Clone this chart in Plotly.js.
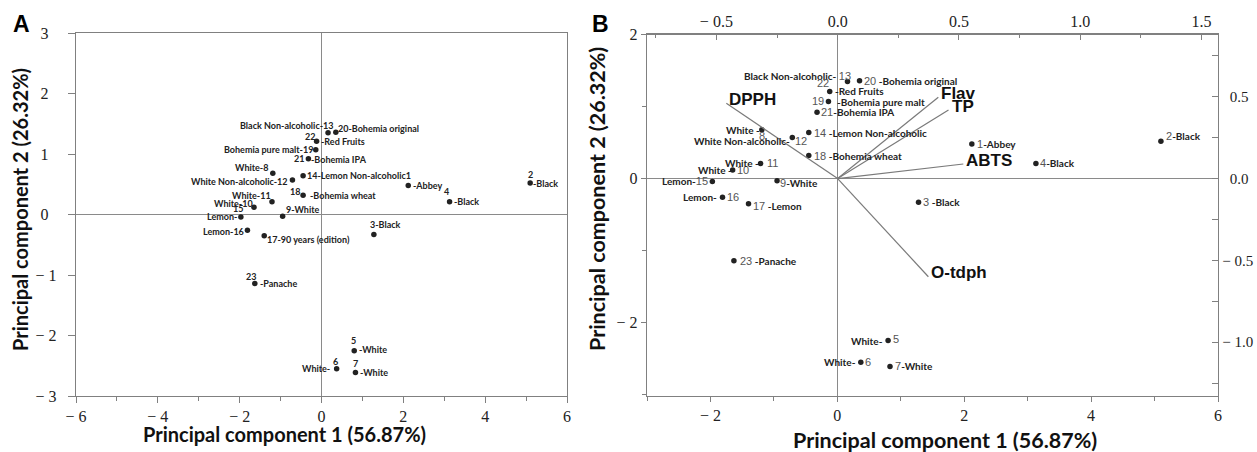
<!DOCTYPE html>
<html><head><meta charset="utf-8">
<script src="https://cdn.plot.ly/plotly-3.0.1.min.js"></script>
<style>html,body{margin:0;padding:0;background:#fff}#chart{width:1257px;height:452px}</style>
</head><body><div id="chart"></div>
<script>
// ---- data: PCA scores (samples 1..23) ----
const sampleIds = [1,2,3,4,5,6,7,8,9,10,11,12,13,14,15,16,17,18,19,20,21,22,23];
const pc1 = [2.12, 5.10, 1.28, 3.13, 0.80, 0.37, 0.83, -1.19, -0.95, -1.65, -1.21, -0.71, 0.16, -0.45, -1.97, -1.81, -1.40, -0.45, -0.14, 0.35, -0.32, -0.12, -1.63];
const pc2 = [0.48, 0.52, -0.33, 0.21, -2.25, -2.55, -2.61, 0.68, -0.03, 0.12, 0.21, 0.57, 1.35, 0.64, -0.04, -0.26, -0.35, 0.32, 1.07, 1.36, 0.92, 1.21, -1.14];

// ---- data: loadings (panel B vectors) ----
const variables = ['DPPH', 'Flav', 'TP', 'ABTS', 'O-tdph'];
const loading1 = [-0.459, 0.415, 0.457, 0.518, 0.374];
const loading2 = [0.460, 0.497, 0.419, 0.089, -0.600];

// ---- tick labels (invisible padding emulates the centred label alignment) ----
const M = '\u2212 ';
const P = k => '<span style="color:rgba(0,0,0,0)">' + '0'.repeat(k) + '</span>';
const xTickValsA = [-6,-4,-2,0,2,4,6];
const xTickTextA = [M+'6',M+'4',M+'2','0','2','4','6'];
const yTickValsA = [-3,-2,-1,0,1,2,3];
const yTickTextA = [M+'3'+P(1), M+'2'+P(1), M+'1'+P(1), '0'+P(2), '1'+P(2), '2'+P(2), '3'+P(2)];
const xTickValsB = [-2,0,2,4,6];
const xTickTextB = [M+'2','0','2','4','6'];
const yTickValsB = [-2,0,2];
const yTickTextB = [M+'2','0','2'];
const xTopTickVals = [-0.5,0,0.5,1,1.5];
const xTopTickText = [M+'0.5','0.0','0.5','1.0','1.5'];
const yRightTickVals = [-1,-0.5,0,0.5];
const yRightTickText = [M+'1.0', M+'0.5', P(1)+'0.0', P(1)+'0.5'];

// ---- label texts & placement (screen px offsets from point) ----
// [sample, text, anchor, dx, dy]
const labelsA = [
 [1,'-Abbey','left',5,0],
 [2,'2','center',0,-9],[2,'-Black','left',3,0],
 [3,'3-Black','left',-4,-10],
 [4,'4','center',-3,-10],[4,'-Black','left',4,0],
 [5,'5','center',-1,-10],[5,'-White','left',5,-1],
 [6,'6','center',-1,-7],[6,'White-','right',-7,0],
 [7,'7','center',0,-9],[7,'-White','left',5,0],
 [8,'White-8','right',-5,-6],
 [9,'9-White','left',3,-7],
 [10,'White-10','right',-1,-4],
 [11,'White-11','right',-1,-6],
 [12,'White Non-alcoholic-12','right',-4,1.5],
 [13,'Black Non-alcoholic-13','right',6,-7],
 [14,'14-Lemon Non-alcoholic1','left',4,0],
 [15,'15','center',-3,-8],[15,'Lemon-','right',-4,0],
 [16,'Lemon-16','right',-3,1],
 [17,'17-90 years (edition)','left',3,4],
 [18,'18','right',-3,-4],[18,'-Bohemia wheat','left',7,0],
 [19,'Bohemia pure malt-19','right',-3,0],
 [20,'20-Bohemia original','left',2,-4],
 [21,'21','right',-4,-0.5],[21,'-Bohemia IPA','left',3,1],
 [22,'22','right',-2,-5],[22,'-Red Fruits','left',4,0],
 [23,'23','center',-4,-7],[23,'-Panache','left',5,0]
];
const n = s => '<span style="font-family:Liberation Sans;font-weight:normal;font-size:11px;color:#555">'+s+'</span>';
const b = s => '<b>'+s+'</b>';
const labelsB = [
 [1,n('1')+b('-Abbey'),'left',5,0],
 [2,n('2')+b('-Black'),'left',5,-5],
 [3,n('3')+' '+b('-Black'),'left',4,0],
 [4,n('4')+b('-Black'),'left',4,0],
 [5,b('White-'),'right',-5,0],[5,n('5'),'left',5,-2],
 [6,b('White-'),'right',-5,0],[6,n('6'),'left',4,0],
 [7,n('7')+b('-White'),'left',5,0],
 [8,b('White -'),'right',-2,0],[8,n('8'),'center',0,6],
 [9,n('9')+b('-White'),'left',3,2],
 [10,b('White -'),'right',-1,0],[10,n('10'),'left',4,0],
 [11,b('White -'),'right',-2,0],[11,n('11'),'left',6,0],
 [12,b('White Non-alcoholic-'),'right',-2,3],[12,n('12'),'left',3,3],
 [13,b('Black Non-alcoholic-')+' '+n('13'),'right',4,-5],
 [14,n('14')+' '+b('-Lemon Non-alcoholic'),'left',5,0],
 [15,b('Lemon-')+n('15'),'right',-4,0],
 [16,b('Lemon-'),'right',-6,0],[16,n('16'),'left',4,0],
 [17,n('17')+' '+b('-Lemon'),'left',4,2],
 [18,n('18')+' '+b('-Bohemia wheat'),'left',5,0],
 [19,n('19'),'right',-4,-1],[19,b('-Bohemia pure malt'),'left',9,0],
 [20,n('20')+' '+b('-Bohemia original'),'left',4,0],
 [21,n('21')+b('-Bohemia IPA'),'left',4,0],
 [22,n('22'),'center',-7,-8],[22,b('-Red Fruits'),'left',5,0],
 [23,n('23')+' '+b('-Panache'),'left',6,0]
];

const W = 1257, H = 452;
const px = v => v / W, py = v => 1 - v / H;
const lineCol = '#808080';
const tickFont = {family:'Liberation Serif, Times New Roman, serif', size:16, color:'#222'};
const titleFont = {family:'Lato, Open Sans, sans-serif', size:20, color:'#111'};

function pad(a){ return a==='left' ? -2 : (a==='right' ? 2 : 0); }

const annotations = [];
labelsA.forEach(([s,t,a,dx,dy]) => {
  const i = sampleIds.indexOf(s);
  annotations.push({x:pc1[i], y:pc2[i], xref:'x', yref:'y', text:'<b>'+t+'</b>', showarrow:false,
    xanchor:a, yanchor:'middle', xshift:dx+pad(a), yshift:-dy,
    font:{family:'Lato, sans-serif', size:9, color:'#222'}});
});
labelsB.forEach(([s,t,a,dx,dy]) => {
  const i = sampleIds.indexOf(s);
  annotations.push({x:pc1[i], y:pc2[i], xref:'x2', yref:'y2', text:t, showarrow:false,
    xanchor:a, yanchor:'middle', xshift:dx+pad(a), yshift:-dy,
    font:{family:'Lato, sans-serif', size:10, color:'#222'}});
});
variables.forEach((v,k) => {
  annotations.push({x:loading1[k], y:loading2[k], xref:'x3', yref:'y3', text:'<b>'+v+'</b>', showarrow:false,
    xanchor:'left', yanchor:'middle', xshift:1, yshift:4,
    font:{family:'Liberation Sans, Arial, sans-serif', size:17, color:'#111'}});
});
// panel letters and axis titles
function paperText(x, y, text, font, angle){
  return {x:px(x), y:py(y), xref:'paper', yref:'paper', text:text, showarrow:false,
    xanchor:'center', yanchor:'middle', textangle:angle||0, font:font};
}
const letterFont = {family:'Liberation Sans, Arial, sans-serif', size:23, color:'#000'};
annotations.push(paperText(21, 24, '<b>A</b>', letterFont));
annotations.push(paperText(600, 24, '<b>B</b>', letterFont));
annotations.push(paperText(284, 434, '<b>Principal component 1 (56.87%)</b>', titleFont));
annotations.push(paperText(20, 210, '<b>Principal component 2 (26.32%)</b>', titleFont, -90));
const titleFontB = Object.assign({}, titleFont, {size:21.5});
annotations.push(paperText(945, 440, '<b>Principal component 1 (56.87%)</b>', titleFontB));
annotations.push(paperText(597, 199, '<b>Principal component 2 (26.32%)</b>', titleFontB, -90));

// vector lines
const vx = [], vy = [];
loading1.forEach((l,k) => { vx.push(0, l, null); vy.push(0, loading2[k], null); });

const traces = [
  {x:pc1, y:pc2, xaxis:'x', yaxis:'y', mode:'markers', type:'scatter', marker:{size:5.5, color:'#222'}, hoverinfo:'skip'},
  {x:pc1, y:pc2, xaxis:'x2', yaxis:'y2', mode:'markers', type:'scatter', marker:{size:5.5, color:'#222'}, hoverinfo:'skip'},
  {x:vx, y:vy, xaxis:'x3', yaxis:'y3', mode:'lines', type:'scatter', line:{color:'#7a7a7a', width:1.2}, hoverinfo:'skip'}
];

const baseAxis = {showgrid:false, showline:true, linecolor:lineCol, linewidth:1.2, tickcolor:lineCol,
  tickfont:tickFont, zeroline:true, zerolinecolor:'#8a8a8a', zerolinewidth:1.3, tickmode:'array', fixedrange:true};

const layout = {
  width:W, height:H, margin:{l:0,r:0,t:0,b:0}, paper_bgcolor:'#fff', plot_bgcolor:'#fff', showlegend:false,
  xaxis: Object.assign({}, baseAxis, {domain:[px(76), px(567)], range:[-6,6], anchor:'y', mirror:true,
    tickvals:xTickValsA, ticktext:xTickTextA, ticks:'outside', ticklen:6,
    minor:{tickmode:'array', tickvals:[-5,-3,-1,1,3,5], ticks:'outside', ticklen:4, tickcolor:lineCol}}),
  yaxis: Object.assign({}, baseAxis, {domain:[py(396), py(33)], range:[-3,3], anchor:'x', mirror:true,
    tickvals:yTickValsA, ticktext:yTickTextA, ticks:'outside', ticklen:7}),
  xaxis2: Object.assign({}, baseAxis, {domain:[px(647), px(1218)], range:[-3,6], anchor:'y2',
    tickvals:xTickValsB, ticktext:xTickTextB, ticks:'outside', ticklen:5,
    minor:{tickmode:'array', tickvals:[-3,-1,1,3,5], ticks:'outside', ticklen:4, tickcolor:lineCol}}),
  yaxis2: Object.assign({}, baseAxis, {domain:[py(396), py(34.6)], range:[-3.02,2.0], anchor:'x2',
    tickvals:yTickValsB, ticktext:yTickTextB, ticks:'outside', ticklen:5,
    minor:{tickmode:'array', tickvals:[-3,-1,1], ticks:'outside', ticklen:4, tickcolor:lineCol}}),
  xaxis3: Object.assign({}, baseAxis, {overlaying:'x2', side:'top', anchor:'y2', range:[-0.786,1.568], zeroline:false,
    tickvals:xTopTickVals, ticktext:xTopTickText, ticks:'inside', ticklen:5,
    minor:{tickmode:'array', tickvals:[-0.75,-0.25,0.25,0.75,1.25], ticks:'inside', ticklen:3, tickcolor:lineCol}}),
  yaxis3: Object.assign({}, baseAxis, {overlaying:'y2', side:'right', anchor:'x2', range:[-1.329,0.880], zeroline:false,
    tickvals:yRightTickVals, ticktext:yRightTickText, ticks:'inside', ticklen:6,
    tickfont:Object.assign({}, tickFont, {size:15}),
    minor:{tickmode:'array', tickvals:[-1.25,-0.75,-0.25,0.25,0.75], ticks:'inside', ticklen:6, tickcolor:lineCol}}),
  annotations: annotations
};

Plotly.newPlot('chart', traces, layout, {staticPlot:true, displayModeBar:false});
</script></body></html>
